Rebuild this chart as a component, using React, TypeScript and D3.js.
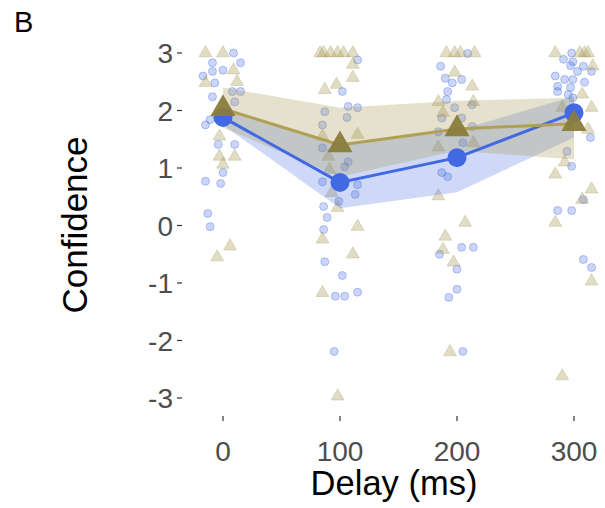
import React from "react";
import * as d3 from "d3";

const delays = [0, 100, 200, 300];
const blueMean = [1.88, 0.75, 1.18, 1.96];
const blueLo = [1.75, 0.3, 0.58, 1.53];
const blueHi = [2.05, 1.4, 1.65, 2.25];
const tanMean = [2.03, 1.4, 1.68, 1.77];
const tanLo = [1.7, 0.85, 1.3, 1.15];
const tanHi = [2.4, 2.05, 2.17, 2.22];

const yTicks = [-3, -2, -1, 0, 1, 2, 3];
const xTicks = [0, 100, 200, 300];

// jittered raw points: [delay (ms, jittered), confidence]
const bluePoints: [number, number][] = [
  [9, 3.0], [15, 2.83], [-9, 2.83], [-9, 2.68], [0, 2.7], [-17, 2.6], [-7, 2.48], [15, 2.33], [8, 2.33], [-9, 2.24],
  [10, 2.15], [-15, 1.75], [-11, 1.84], [-4, 1.41], [10, 1.41], [0, 0.92], [-15, 0.77], [-2, 0.73], [-13, 0.21], [-11, -0.02],
  [115, 2.88], [102, 2.33], [87, 1.98], [107, 2.07], [115, 2.05], [106, 1.88], [85, 1.75], [85, 1.35], [107, 1.11], [104, 1.02],
  [85, 0.76], [115, 0.71], [113, 0.54], [99, 0.42], [86, 0.33], [89, 0.14], [86, -0.07], [87, -0.63], [102, -0.87], [96, -1.23],
  [104, -1.23], [115, -1.16], [95, -2.19],
  [209, 2.99], [186, 2.77], [190, 2.56], [196, 2.48], [204, 2.54], [192, 2.33], [191, 2.19], [198, 2.05], [213, 2.1], [187, 1.87],
  [204, 1.87], [213, 1.72], [184, 1.63], [205, 1.44], [187, 0.92], [192, 0.85], [204, -0.38], [214, -0.38], [185, -0.5], [200, -0.76],
  [200, -1.11], [193, -1.25], [205, -2.19],
  [298, 3.0], [291, 2.89], [299, 2.85], [297, 2.78], [308, 2.77], [303, 2.68], [315, 2.68], [284, 2.6], [292, 2.54], [299, 2.54],
  [309, 2.49], [286, 2.42], [297, 2.4], [286, 2.33], [295, 2.28], [299, 2.22], [314, 1.53], [294, 1.29], [298, 1.03], [308, 0.45],
  [286, 0.26], [298, 0.26], [308, -0.59], [315, -0.73],
];

const tanPoints: [number, number][] = [
  [-15, 3.0], [0, 3.0], [9, 2.7], [12, 2.5], [-15, 2.48], [-3, 1.55], [10, 1.2], [-3, 1.2], [0, 1.06], [6, -0.36], [-5, -0.55],
  [83, 3.0], [86, 3.0], [92, 3.0], [98, 3.0], [103, 3.0], [111, 3.0], [111, 2.8], [111, 2.57], [87, 2.36], [97, 2.45],
  [115, 1.58], [85, 1.55], [90, 1.2], [91, 0.97], [93, 0.57], [98, 0.31], [115, -0.02], [85, -0.24], [111, -0.5], [85, -1.17], [98, -2.97],
  [191, 3.0], [198, 3.0], [203, 3.0], [215, 3.0], [198, 2.66], [213, 2.42], [184, 2.15], [214, 2.15], [188, 1.96], [184, 1.36],
  [214, 1.44], [184, 0.51], [207, 0.05], [190, -0.19], [188, -0.42], [197, -0.64], [194, -2.2],
  [284, 3.0], [305, 3.0], [309, 3.0], [312, 3.0], [316, 2.77], [307, 2.28], [315, 2.05], [290, 2.05], [312, 1.67], [292, 1.1],
  [284, 0.89], [315, 0.63], [307, 0.45], [284, 0.05], [315, -0.97], [290, -2.62],
];

const BLUE = "#4169E1";
const TAN = "#A89A5A";
const TAN_LINE = "#B0A055";
const TAN_MEAN = "#8A7C3C";
const FONT = "'Liberation Sans', Arial, sans-serif";

export default function App() {
  const W = 605, H = 508;
  const x = d3.scaleLinear().domain([0, 300]).range([223, 574]);
  const y = d3.scaleLinear().domain([-3, 3]).range([398, 53]);

  const smallTri = d3.symbol().type(d3.symbolTriangle).size(72)()!;
  const bigTri = d3.symbol().type(d3.symbolTriangle).size(275)()!;

  const band = (lo: number[], hi: number[]) =>
    d3.area<number>()
      .x((_, i) => x(delays[i]))
      .y0((_, i) => y(lo[i]))
      .y1((_, i) => y(hi[i]))(delays)!;
  const line = (m: number[]) =>
    d3.line<number>()
      .x((_, i) => x(delays[i]))
      .y((_, i) => y(m[i]))(delays)!;

  return (
    <svg width={W} height={H} style={{ position: "absolute", left: 0, top: 0, background: "#fff" }}>
      <rect width={W} height={H} fill="#fff" />
      <text x={14} y={32} fontFamily={FONT} fontSize={29} fill="#000">B</text>

      {/* raw points */}
      {bluePoints.map((p, i) => (
        <circle key={"b" + i} cx={x(p[0])} cy={y(p[1])} r={4}
          fill={BLUE} fillOpacity={0.28} stroke={BLUE} strokeOpacity={0.35} strokeWidth={1} />
      ))}
      {tanPoints.map((p, i) => (
        <path key={"t" + i} d={smallTri} transform={`translate(${x(p[0])},${y(p[1])})`}
          fill={TAN} fillOpacity={0.35} stroke={TAN} strokeOpacity={0.3} strokeWidth={1} />
      ))}

      {/* ribbons */}
      <path d={band(blueLo, blueHi)} fill={BLUE} fillOpacity={0.25} />
      <path d={band(tanLo, tanHi)} fill={TAN} fillOpacity={0.3} />

      {/* lines */}
      <path d={line(blueMean)} fill="none" stroke={BLUE} strokeWidth={3} />
      <path d={line(tanMean)} fill="none" stroke={TAN_LINE} strokeWidth={3} />

      {/* means */}
      {delays.map((d, i) => (
        <circle key={"bm" + i} cx={x(d)} cy={y(blueMean[i])} r={9.5} fill={BLUE} />
      ))}
      {delays.map((d, i) => (
        <path key={"tm" + i} d={bigTri} transform={`translate(${x(d)},${y(tanMean[i])})`} fill={TAN_MEAN} fillOpacity={0.95} />
      ))}

      {/* y axis */}
      {yTicks.map((t) => (
        <g key={"y" + t}>
          <line x1={177} x2={182} y1={y(t)} y2={y(t)} stroke="#333" strokeWidth={1.2} />
          <text x={173} y={y(t)} dy="0.36em" textAnchor="end" fontFamily={FONT} fontSize={28} fill="#4D4D4D">{t}</text>
        </g>
      ))}
      {/* x axis */}
      {xTicks.map((t) => (
        <g key={"x" + t}>
          <line x1={x(t)} x2={x(t)} y1={416} y2={421} stroke="#333" strokeWidth={1.2} />
          <text x={x(t)} y={461} textAnchor="middle" fontFamily={FONT} fontSize={28} fill="#4D4D4D">{t}</text>
        </g>
      ))}

      <text x={394} y={495} textAnchor="middle" fontFamily={FONT} fontSize={34.5} fill="#000">Delay (ms)</text>
      <text transform={`translate(87,225) rotate(-90)`} textAnchor="middle" fontFamily={FONT} fontSize={35} fill="#000">Confidence</text>
    </svg>
  );
}
